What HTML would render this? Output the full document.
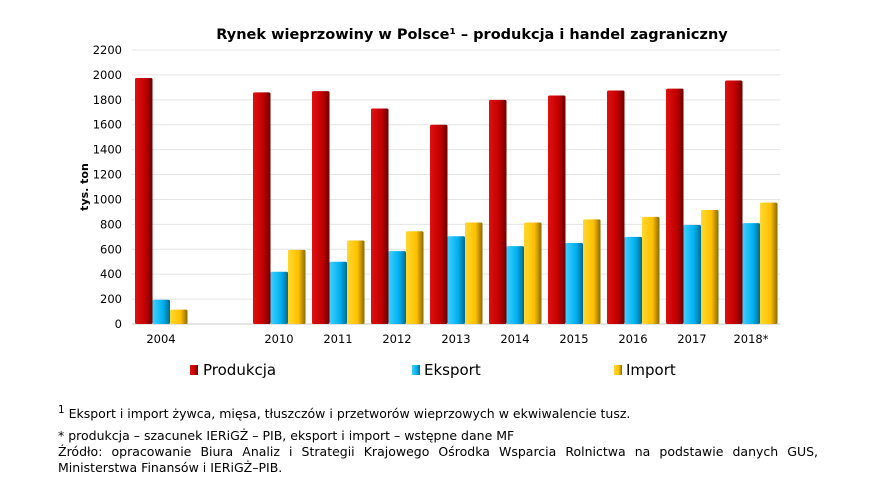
<!DOCTYPE html>
<html><head><meta charset="utf-8"><style>
body{margin:0;background:#fff;width:890px;height:488px;overflow:hidden;font-family:Verdana,"DejaVu Sans","Liberation Sans",sans-serif;}
svg text{font-family:Verdana,"DejaVu Sans","Liberation Sans",sans-serif;}
.note{position:absolute;left:58px;font-size:12.5px;color:#000;}
</style></head><body>
<svg width="890" height="400" style="position:absolute;left:0;top:0">
<defs>
<linearGradient id="gr" x1="0" x2="1"><stop offset="0" stop-color="#e01010"/><stop offset="0.6" stop-color="#c00000"/><stop offset="1" stop-color="#6a0000"/></linearGradient>
<linearGradient id="gb" x1="0" x2="1"><stop offset="0" stop-color="#40d0ff"/><stop offset="0.6" stop-color="#00b0f0"/><stop offset="1" stop-color="#006a90"/></linearGradient>
<linearGradient id="gy" x1="0" x2="1"><stop offset="0" stop-color="#ffd830"/><stop offset="0.6" stop-color="#ffc000"/><stop offset="1" stop-color="#8a6a00"/></linearGradient>
</defs>
<text x="472" y="39" text-anchor="middle" font-size="14.5" font-weight="bold">Rynek wieprzowiny w Polsce¹ – produkcja i handel zagraniczny</text>
<g id="grid"></g><g id="bars"></g><g id="labels"></g>
<text transform="translate(88,187) rotate(-90)" text-anchor="middle" font-size="11" font-weight="bold">tys. ton</text>
<g>
<rect x="190" y="365" width="8" height="10" fill="url(#gr)"/><text x="203" y="375" font-size="15">Produkcja</text>
<rect x="412" y="365" width="8" height="10" fill="url(#gb)"/><text x="424" y="375" font-size="15">Eksport</text>
<rect x="614" y="365" width="8" height="10" fill="url(#gy)"/><text x="626" y="375" font-size="15">Import</text>
</g>
</svg>
<div class="note" style="top:404px"><sup>1</sup> Eksport i import żywca, mięsa, tłuszczów i przetworów wieprzowych w ekwiwalencie tusz.</div>
<div class="note" style="top:428px">* produkcja – szacunek IERiGŻ – PIB, eksport i import – wstępne dane MF</div>
<div class="note" style="top:444px;width:760px;text-align:justify;line-height:16px">Źródło: opracowanie Biura Analiz i Strategii Krajowego Ośrodka Wsparcia Rolnictwa na podstawie danych GUS, Ministerstwa Finansów i IERiGŻ–PIB.</div>
<script>
const categories=["2004","","2010","2011","2012","2013","2014","2015","2016","2017","2018*"];
const produkcja=[1975,null,1860,1870,1730,1600,1800,1835,1875,1890,1955];
const eksport=[195,null,420,500,585,705,625,650,700,795,810];
const importV=[115,null,595,670,745,815,815,840,860,915,975];
const yTicks=[0,200,400,600,800,1000,1200,1400,1600,1800,2000,2200];
const NS="http://www.w3.org/2000/svg";
const x0=131.5,slot=59,yBase=324,yTop=50,yMax=2200;
const y=v=>yBase-(v/yMax)*(yBase-yTop);
const xc=i=>x0+slot*(i+0.5);
function mk(t,a,p){const e=document.createElementNS(NS,t);for(const k in a)e.setAttribute(k,a[k]);p.appendChild(e);return e;}
const G=document.getElementById('grid'),B=document.getElementById('bars'),L=document.getElementById('labels');
yTicks.forEach(v=>{
 const ln=mk('line',{x1:x0,x2:x0+slot*categories.length,y1:y(v),y2:y(v),stroke:v===0?'#c8c8c8':'#e4e4e4','stroke-width':1},G);
 
 
 const t=mk('text',{x:122,y:y(v)+4,'text-anchor':'end','font-size':11.5},L);t.textContent=v;
 
 
});
const series=[[produkcja,'url(#gr)','bar-produkcja'],[eksport,'url(#gb)','bar-eksport'],[importV,'url(#gy)','bar-import']];
categories.forEach((c,i)=>{
 series.forEach((s,k)=>{
  const v=s[0][i];if(v==null)return;
  const bx=xc(i)-26+k*17.5;
  const r=mk('rect',{x:bx,y:y(v),width:17.5,height:yBase-y(v),fill:s[1],rx:1.5},B);
  
  
 });
 if(c){const t=mk('text',{x:xc(i),y:343,'text-anchor':'middle','font-size':11.5},L);t.textContent=c;
 
 }
});
</script>
</body></html>
